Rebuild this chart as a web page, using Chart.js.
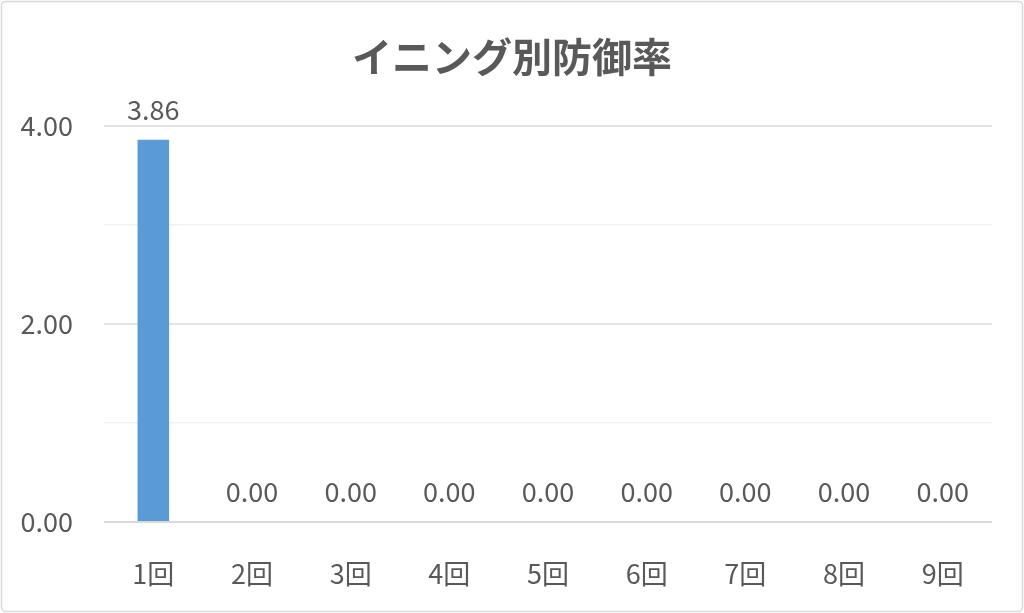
<!DOCTYPE html>
<html>
<head>
<meta charset="utf-8">
<script src="https://cdn.jsdelivr.net/npm/chart.js@4"></script>
<style>
    html, body { margin: 0; padding: 0; background: #fff; }
    #wrap { width: 1024px; height: 613px; }
</style>
</head>
<body>
<div id="wrap"><canvas id="eraChart"></canvas></div>
<script>
const chartTitle = 'イニング別防御率';
const innings = ['1回', '2回', '3回', '4回', '5回', '6回', '7回', '8回', '9回'];
const eraValues = [3.86, 0, 0, 0, 0, 0, 0, 0, 0];
const yTicks = [0, 1, 2, 3, 4];

const FONT = '"Noto Sans CJK JP", "Noto Sans", sans-serif';
const TEXT = '#595959';

// frame and title (title is centred on the whole canvas, not the plot area)
const framePlugin = {
    id: 'frame',
    beforeDraw(chart) {
        const c = chart.ctx;
        c.save();
        c.fillStyle = '#fff';
        c.fillRect(0, 0, chart.width, chart.height);
        c.strokeStyle = '#D9D9D9';
        c.lineWidth = 1.5;
        c.beginPath();
        c.roundRect(1.5, 1.5, chart.width - 3, chart.height - 3, 4);
        c.stroke();

        c.font = 'bold 40px ' + FONT;
        c.fillStyle = TEXT;
        c.textAlign = 'center';
        c.textBaseline = 'middle';
        c.fillText(chartTitle, chart.width / 2, 57);
        c.restore();
    }
};

// value labels above each bar
const valueLabels = {
    id: 'valueLabels',
    afterDatasetsDraw(chart) {
        const c = chart.ctx;
        const meta = chart.getDatasetMeta(0);
        c.save();
        c.font = '27px ' + FONT;
        c.fillStyle = TEXT;
        c.textAlign = 'center';
        c.textBaseline = 'middle';
        meta.data.forEach((bar, i) => {
            const v = chart.data.datasets[0].data[i];
            c.fillText(v.toFixed(2), bar.x, bar.y - 30);
        });
        c.restore();
    }
};

new Chart(document.getElementById('eraChart'), {
    type: 'bar',
    data: {
        labels: innings,
        datasets: [{
            data: eraValues,
            backgroundColor: '#5B9BD5',
            barPercentage: 0.32,
            categoryPercentage: 1.0
        }]
    },
    options: {
        responsive: true,
        maintainAspectRatio: false,
        animation: false,
        layout: { padding: { left: 0, right: 32, top: 126, bottom: 0 } },
        plugins: {
            legend: { display: false },
            tooltip: { enabled: false },
            title: { display: false }
        },
        scales: {
            x: {
                grid: { display: false },
                border: { display: false },
                ticks: {
                    color: TEXT,
                    font: { family: FONT, size: 27 },
                    padding: 28
                },
                afterFit(scale) { scale.height = 91; }
            },
            y: {
                min: 0,
                max: 4,
                afterBuildTicks(scale) { scale.ticks = yTicks.map(v => ({ value: v })); },
                grid: {
                    drawTicks: false,
                    lineWidth: ctx => ctx.tick && ctx.tick.value % 2 === 0 ? 2 : 1.5,
                    color: ctx => {
                        if (!ctx.tick) return '#E3E3E3';
                        if (ctx.tick.value === 0) return '#D9D9D9';
                        return ctx.tick.value % 2 === 0 ? '#E3E3E3' : '#F2F2F2';
                    }
                },
                border: { display: false },
                ticks: {
                    color: TEXT,
                    font: { family: FONT, size: 27 },
                    padding: 31,
                    callback: v => v % 2 === 0 ? v.toFixed(2) : ''
                },
                afterFit(scale) { scale.width = 104; }
            }
        }
    },
    plugins: [framePlugin, valueLabels]
});
</script>
</body>
</html>
